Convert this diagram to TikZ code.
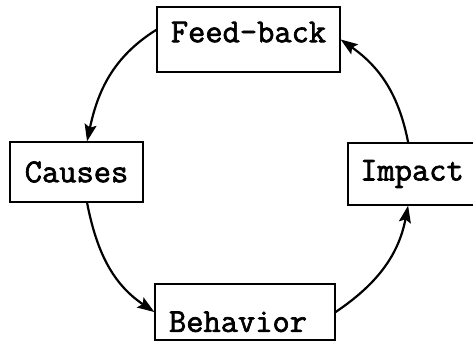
\documentclass[tikz,border=0pt]{standalone}
\usepackage{fontspec}
\newfontfamily\kastenschrift{Latin Modern Mono}[FakeBold=2]
\usepackage{tikz}
\usetikzlibrary{arrows.meta}

\tikzset{
    kasten/.style={draw, line width=1.3pt, inner sep=0pt,
        font=\kastenschrift\fontsize{33.5}{35}\selectfont},
    pfeil/.style={line width=2.2pt, -{Stealth[length=17pt, width=12pt, inset=3pt]}}
}

\begin{document}
\begin{tikzpicture}[x=1pt, y=1pt]
    \useasboundingbox (0,0) rectangle (473,343);

    % Kaesten.
    \node[kasten, minimum width=183pt, minimum height=65pt, text depth=15pt] (feedback) at (248.5,303.5) {Feed-back};
    \node[kasten, minimum width=133pt, minimum height=60pt] (causes) at (76.5,171) {Causes};
    \node[kasten, minimum width=128pt, minimum height=62pt] (impact) at (412,169) {Impact};
    \node[kasten, minimum width=180pt, minimum height=56pt, text height=40pt] (behavior) at (245,31) {Behavior\hspace*{14pt}};

    % Pfeile im Kreis.
    \draw[pfeil] (feedback.174) to[out=212, in=78] (causes.71);
    \draw[pfeil] (causes.-71) to[out=281, in=146] (behavior.west);
    \draw[pfeil] (behavior.east) to[out=34, in=259] (impact.263);
    \draw[pfeil] (impact.97) to[out=101, in=325] (feedback.east);
\end{tikzpicture}
\end{document}
